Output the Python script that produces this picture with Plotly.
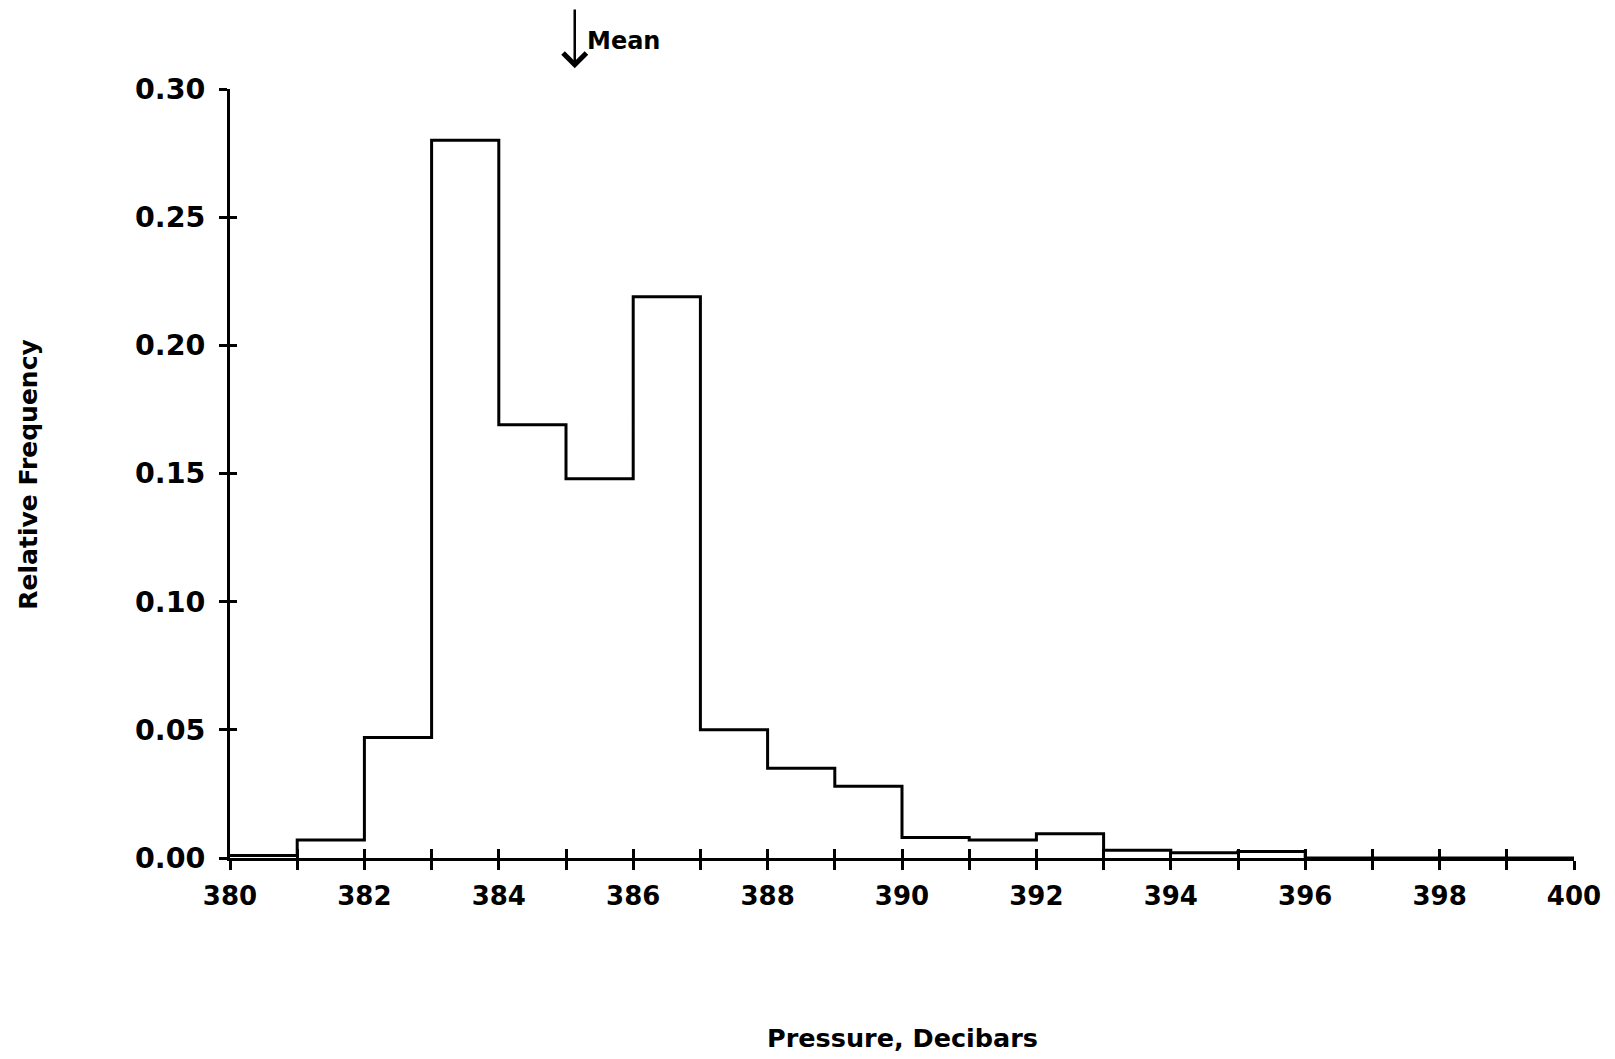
import plotly.graph_objects as go

# Data
bin_edges = list(range(380, 401))  # 380..400, 1-decibar bins
rel_freq = [0.001, 0.007, 0.047, 0.280, 0.169, 0.148, 0.219, 0.050, 0.035, 0.028,
            0.008, 0.007, 0.0095, 0.003, 0.002, 0.0025, 0.0, 0.0, 0.0, 0.0]
x_ticks = list(range(380, 401))
x_tick_labels = [str(v) if v % 2 == 0 else "" for v in x_ticks]
y_ticks = [0.0, 0.05, 0.10, 0.15, 0.20, 0.25, 0.30]
y_tick_labels = ["0.00", "0.05", "0.10", "0.15", "0.20", "0.25", "0.30"]
mean_value = 385.13

FONT = dict(family="DejaVu Sans", color="black", weight="bold")

step_x = bin_edges
step_y = rel_freq + [rel_freq[-1]]

fig = go.Figure()
fig.add_trace(go.Scatter(x=step_x, y=step_y, mode="lines", line=dict(shape="hv", color="black", width=3),
                         cliponaxis=False, showlegend=False, hoverinfo="skip"))

fig.update_layout(
    width=1615, height=1059,
    margin=dict(l=222, r=49, t=81, b=209),
    paper_bgcolor="white", plot_bgcolor="white",
    showlegend=False,
    xaxis=dict(range=[380, 400], tickvals=x_ticks, ticktext=x_tick_labels, ticks="outside", ticklen=9,
               tickwidth=2.5, tickcolor="black", showline=True, linecolor="black", linewidth=3,
               showgrid=False, zeroline=False, tickfont=dict(size=26, **FONT), ticklabelstandoff=4),
    yaxis=dict(range=[0, 0.30], tickvals=y_ticks, ticktext=y_tick_labels, ticks="outside", ticklen=8,
               tickwidth=2.5, tickcolor="black", showline=True, linecolor="black", linewidth=3,
               showgrid=False, zeroline=False, tickfont=dict(size=28.5, **FONT), ticklabelstandoff=8),
    xaxis2=dict(range=[380, 400], overlaying="x", anchor="y2", tickvals=x_ticks, ticks="inside", ticklen=9,
                tickwidth=2.5, tickcolor="black", showticklabels=False, showline=False, showgrid=False,
                zeroline=False),
    yaxis2=dict(range=[0, 0.30], overlaying="y", anchor="x2", tickvals=y_ticks, ticks="inside", ticklen=7,
                tickwidth=2.5, tickcolor="black", showticklabels=False, showline=False, showgrid=False,
                zeroline=False),
)
fig.add_trace(go.Scatter(x=[390], y=[-1], xaxis="x2", yaxis="y2", mode="markers",
                         marker=dict(opacity=0), showlegend=False, hoverinfo="skip", cliponaxis=True))

# Axis titles
fig.add_annotation(text="Pressure, Decibars", xref="paper", yref="paper", x=0.50, y=-0.234,
                   showarrow=False, font=dict(size=25.5, **FONT), xanchor="center", yanchor="middle")
fig.add_annotation(text="Relative Frequency", xref="paper", yref="paper", x=-0.150, y=0.499,
                   showarrow=False, textangle=-90, font=dict(size=25, **FONT), xanchor="center", yanchor="middle")

# Mean arrow
fig.add_annotation(x=mean_value, y=1.027, xref="x", yref="paper", text="", showarrow=True,
                   ax=0, ay=-61, arrowhead=4, arrowsize=1.8, arrowwidth=2.5, arrowcolor="black", standoff=0)
fig.add_annotation(x=mean_value, y=1.063, xref="x", yref="paper", text="Mean", showarrow=False,
                   xanchor="left", yanchor="middle", xshift=10, font=dict(size=24, **FONT))

fig.write_html("out.html")
